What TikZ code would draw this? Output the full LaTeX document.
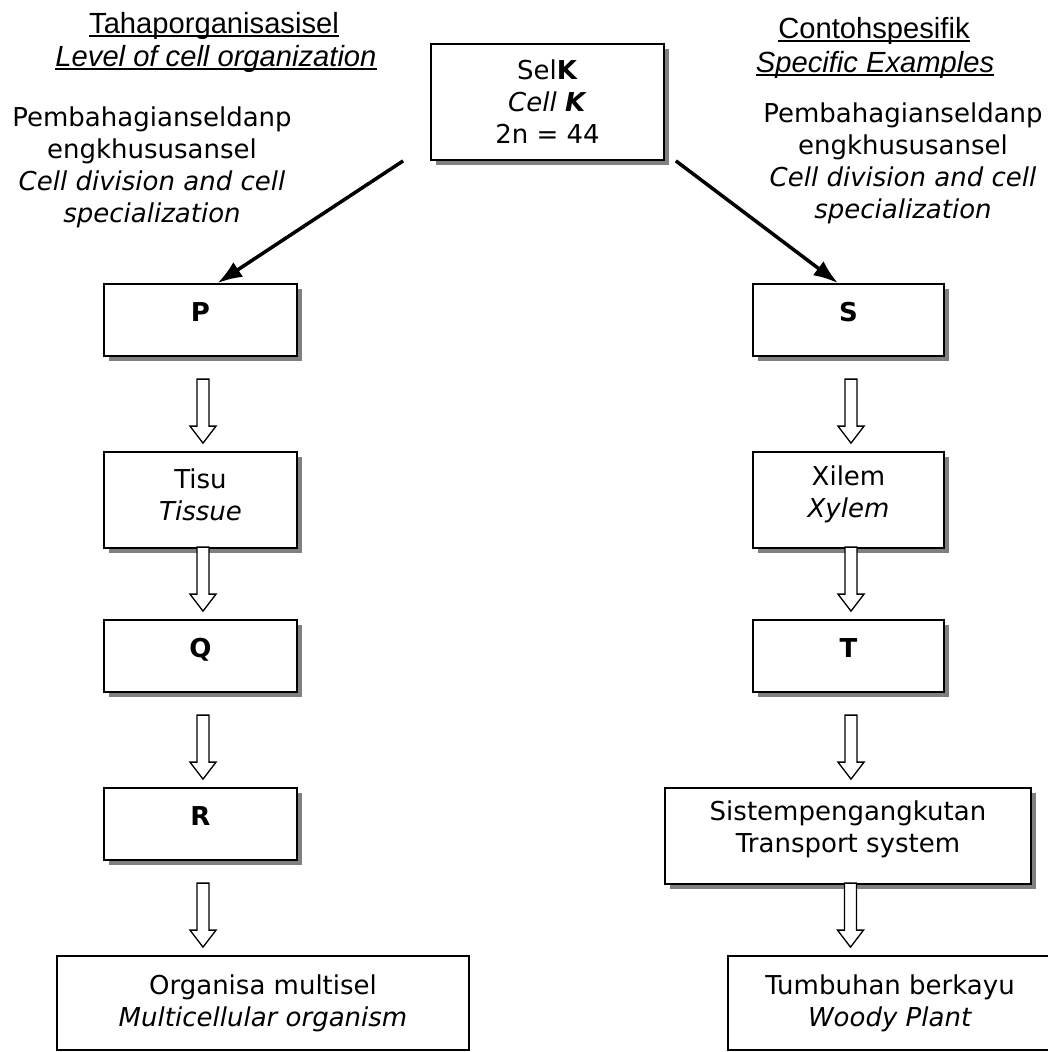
\documentclass[tikz,border=0pt]{standalone}
\usepackage{fontspec}
\setmainfont{DejaVu Sans}
\newfontfamily\headfont{Liberation Sans}
\usetikzlibrary{calc,shadows,arrows.meta}

\newcommand\ulin[1]{\setbox0\hbox{#1}\rlap{\rule[-2pt]{\wd0}{0.9pt}}\box0}

% hollow block arrow: tip just above the second box, under the first
\newcommand\hollowdown[2]{%
  \draw[hollow, shift={($(#2.north -| #1.south)+(2.5,-8)$)}]
    (0,0) -- (-13,-17) -- (-6,-17) -- (-6,-64) -- (6,-64) -- (6,-17) -- (13,-17) -- cycle;}

\tikzset{
  box/.style={draw, line width=1pt, fill=white, align=center, inner sep=0pt,
    drop shadow={shadow xshift=3pt, shadow yshift=-3pt, fill=black!50, opacity=1}},
  endbox/.style={draw, line width=1pt, fill=white, align=center, inner sep=0pt},
  letter/.style={font=\fontsize{14.8}{18.2}\selectfont\bfseries, text height=10pt, text depth=8pt},
  hollow/.style={line width=0.75pt, fill=white, line join=miter},
  link/.style={line width=2pt, -{Latex[length=14pt,width=10pt]}},
  heading/.style={font=\headfont\fontsize{16.6}{18.7}\selectfont, anchor=base, inner sep=0pt},
  note/.style={align=center, anchor=north, inner sep=0pt}
}

\begin{document}
\begin{tikzpicture}[x=0.02cm, y=-0.02cm, font=\fontsize{14.8}{18.2}\selectfont]
  \useasboundingbox (0,0) rectangle (1048,1052);

  % Headings
  \node[heading] (lvlmy) at (214,33) {\ulin{Tahaporganisasisel}};
  \node[heading] (lvlen) at (216,66) {\ulin{\itshape Level of cell organization}};
  \node[heading] (exmy)  at (874,38) {\ulin{Contohspesifik}};
  \node[heading] (exen)  at (875,72) {\ulin{\itshape Specific Examples}};

  % Notes beside the links
  \node[note] (divL) at (152,106) {Pembahagianseldanp\\ engkhususansel\\
    \textit{Cell division and cell}\\ \textit{specialization}};
  \node[note] (divR) at (903,102) {Pembahagianseldanp\\ engkhususansel\\
    \textit{Cell division and cell}\\ \textit{specialization}};

  % Starting cell
  \node[box, minimum width=4.66cm, minimum height=2.32cm] (K) at (547.5,102)
    {Sel\textbf{K}\\ \textit{Cell \textbf{K}}\\ 2n = 44};

  % Left column
  \node[box, letter, minimum width=3.86cm, minimum height=1.44cm] (P) at (200.5,320) {P};
  \node[box, text depth=6.5pt, minimum width=3.86cm, minimum height=1.92cm] (Tisu) at (200.5,500)
    {Tisu\\ \textit{Tissue}};
  \node[box, letter, minimum width=3.86cm, minimum height=1.44cm] (Q) at (200.5,656) {Q};
  \node[box, letter, minimum width=3.86cm, minimum height=1.44cm] (R) at (200.5,824) {R};
  \node[endbox, minimum width=8.24cm, minimum height=1.88cm] (Org) at (263,1003)
    {Organisa multisel\\ \textit{Multicellular organism}};

  % Right column
  \node[box, letter, minimum width=3.82cm, minimum height=1.44cm] (S) at (848.5,320) {S};
  \node[box, text depth=9.5pt, minimum width=3.82cm, minimum height=1.92cm] (Xilem) at (848.5,500)
    {Xilem\\ \textit{Xylem}};
  \node[box, letter, minimum width=3.82cm, minimum height=1.44cm] (T) at (848.5,656) {T};
  \node[box, text depth=10.5pt, minimum width=7.32cm, minimum height=1.92cm] (Sistem) at (848,836)
    {Sistempengangkutan\\ Transport system};
  \node[endbox, minimum width=6.48cm, minimum height=1.88cm] (Woody) at (890,1003)
    {Tumbuhan berkayu\\ \textit{Woody Plant}};

  % Links from the cell
  \coordinate (kL) at ($(K.south west)+(-27,0)$);
  \coordinate (kR) at ($(K.south east)+(11,0)$);
  \draw[link] (kL) -- ($(P.north)+(17,0)$);
  \draw[link] (kR) -- ($(S.north)+(-10.5,0)$);

  % Block arrows down each column
  \foreach \a/\b in {P/Tisu, Tisu/Q, Q/R, R/Org, S/Xilem, Xilem/T, T/Sistem, Sistem/Woody} {
    \hollowdown{\a}{\b}
  }

\end{tikzpicture}
\end{document}
